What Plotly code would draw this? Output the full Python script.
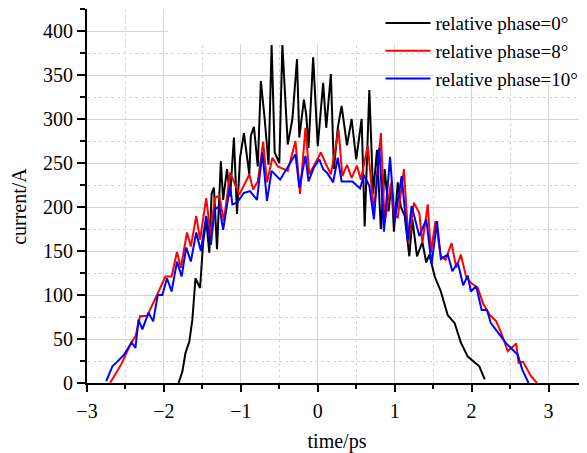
import plotly.graph_objects as go

# phase 0°
x_p0 = [-1.81, -1.76, -1.72, -1.67, -1.63, -1.59, -1.53, -1.49, -1.45, -1.41, -1.38, -1.35, -1.31,
        -1.26, -1.23, -1.18, -1.14, -1.09, -1.05, -1.01, -0.96, -0.89, -0.87, -0.83, -0.78, -0.74,
        -0.69, -0.64, -0.60, -0.56, -0.50, -0.46, -0.39, -0.33, -0.27, -0.24, -0.18, -0.15, -0.12,
        -0.06, 0.00, 0.07, 0.11, 0.17, 0.21, 0.26, 0.31, 0.38, 0.44, 0.50, 0.57, 0.61, 0.67, 0.72,
        0.77, 0.82, 0.87, 0.92, 0.96, 0.99, 1.04, 1.08, 1.13, 1.19, 1.23, 1.29, 1.36, 1.41, 1.45,
        1.52, 1.60, 1.69, 1.78, 1.86, 1.95, 2.03, 2.10, 2.17]
y_p0 = [0, 13, 34, 47, 72, 119, 108, 160, 185, 148, 215, 222, 152,
        252, 208, 243, 212, 279, 192, 256, 284, 237, 281, 291, 246, 343,
        300, 248, 384, 262, 250, 384, 271, 300, 368, 279, 322, 305, 267,
        370, 269, 341, 290, 351, 243, 290, 315, 270, 300, 254, 300, 178, 333, 215,
        265, 175, 243, 195, 228, 172, 228, 200, 190, 144, 186, 144, 160, 137, 146,
        121, 104, 77, 68, 46, 30, 24, 19, 4]

# phase 8°
x_p8 = [-2.70, -2.55, -2.43, -2.37, -2.31, -2.22, -2.09, -1.98, -1.90, -1.83, -1.78, -1.70, -1.65,
        -1.58, -1.53, -1.45, -1.39, -1.34, -1.28, -1.22, -1.14, -1.09, -1.02, -0.89, -0.84, -0.78,
        -0.71, -0.66, -0.59, -0.52, -0.44, -0.39, -0.29, -0.23, -0.16, -0.11, -0.05, 0.04, 0.10,
        0.17, 0.27, 0.32, 0.38, 0.44, 0.51, 0.56, 0.65, 0.73, 0.82, 0.87, 0.95, 0.99, 1.04, 1.12,
        1.18, 1.25, 1.32, 1.36, 1.43, 1.47, 1.53, 1.60, 1.66, 1.74, 1.80, 1.86, 1.93, 1.99, 2.08,
        2.15, 2.23, 2.32, 2.38, 2.47, 2.58, 2.61, 2.67, 2.77, 2.85]
y_p8 = [0, 22, 45, 53, 76, 76, 100, 121, 121, 149, 131, 171, 155,
        190, 163, 210, 167, 210, 213, 184, 239, 228, 214, 237, 220, 229,
        274, 228, 256, 246, 243, 241, 275, 215, 290, 237, 247, 262, 250,
        237, 288, 235, 248, 233, 247, 231, 270, 194, 284, 182, 226, 190, 188, 243,
        160, 205, 193, 159, 203, 148, 184, 144, 140, 159, 131, 146, 120, 114, 108,
        90, 78, 70, 58, 36, 45, 23, 24, 8, 0]

# phase 10°
x_p10 = [-2.75, -2.67, -2.61, -2.52, -2.42, -2.37, -2.33, -2.28, -2.20, -2.14, -2.08, -2.02, -1.96,
         -1.90, -1.83, -1.77, -1.71, -1.65, -1.58, -1.52, -1.45, -1.39, -1.34, -1.28, -1.23, -1.14,
         -1.11, -1.05, -0.96, -0.88, -0.79, -0.72, -0.66, -0.60, -0.49, -0.39, -0.29, -0.24, -0.16,
         -0.12, -0.05, 0.02, 0.07, 0.12, 0.20, 0.26, 0.31, 0.45, 0.55, 0.60, 0.67, 0.73, 0.80, 0.86,
         0.94, 1.00, 1.09, 1.17, 1.22, 1.32, 1.41, 1.48, 1.55, 1.60, 1.69, 1.75, 1.82, 1.89, 1.95,
         1.99, 2.06, 2.13, 2.20, 2.25, 2.34, 2.45, 2.53, 2.60, 2.66, 2.74]
y_p10 = [2, 19, 24, 32, 46, 40, 72, 61, 80, 70, 100, 100, 119,
         104, 138, 121, 154, 138, 171, 150, 190, 157, 197, 201, 174, 224,
         203, 205, 216, 218, 208, 262, 207, 241, 231, 246, 260, 222, 258,
         229, 245, 254, 243, 239, 228, 256, 229, 229, 221, 236, 224, 186, 267, 172,
         257, 184, 235, 162, 201, 167, 186, 135, 184, 141, 146, 127, 137, 111, 122,
         104, 110, 83, 83, 68, 57, 45, 38, 32, 15, 0]

names = ["relative phase=0°", "relative phase=8°", "relative phase=10°"]
colors = ["#000000", "#ff0000", "#0000ff"]

FONT = "Liberation Serif"
FS = 20
fig = go.Figure()
for xs, ys, nm, c in zip([x_p0, x_p8, x_p10], [y_p0, y_p8, y_p10], names, colors):
    fig.add_trace(go.Scatter(x=xs, y=ys, mode="lines", name=nm,
                             line=dict(color=c, width=2)))

# white legend backdrop regions that hide the grid
fig.add_shape(type="rect", xref="x", yref="y", x0=-1.95, x1=3.5, y0=385, y1=425,
              fillcolor="white", line_width=0, layer="between")
fig.add_shape(type="rect", xref="x", yref="y", x0=1.5, x1=3.5, y0=339, y1=425,
              fillcolor="white", line_width=0, layer="between")

grid_major = "#d4d4d4"
grid_minor = "#d4d4d4"
fig.update_xaxes(range=[-3, 3.5], dtick=1, tick0=0, showline=True, linecolor="black", linewidth=2,
                 ticks="outside", ticklen=7, tickwidth=2, tickcolor="black", automargin=False,
                 ticklabelstandoff=2,
                 showgrid=True, gridcolor=grid_major, gridwidth=1, zeroline=False,
                 minor=dict(dtick=0.5, tick0=0, ticks="outside", ticklen=4, tickwidth=1.5,
                            tickcolor="black", showgrid=True, gridcolor=grid_minor, griddash="dot"),
                 title=dict(text="time/ps", font=dict(family=FONT, size=FS, color="black"), standoff=14),
                 tickfont=dict(family=FONT, size=FS, color="black"))
fig.update_yaxes(range=[0, 425], dtick=50, tick0=0, showline=True, linecolor="black", linewidth=2,
                 ticks="outside", ticklen=8, tickwidth=2, tickcolor="black", automargin=False,
                 showgrid=True, gridcolor=grid_major, gridwidth=1, zeroline=False,
                 minor=dict(dtick=25, tick0=0, ticks="outside", ticklen=5, tickwidth=1.5,
                            tickcolor="black", showgrid=True, gridcolor=grid_minor, griddash="dot"),
                 tickfont=dict(family=FONT, size=FS, color="black"))

fig.add_annotation(text="current/A", xref="paper", yref="paper", x=-0.136, y=0.471,
                   xanchor="center", yanchor="middle", textangle=-90, showarrow=False,
                   font=dict(family=FONT, size=FS, color="black"))

# page body has an 8px margin, so the figure is sized/offset to fill the 587x453 window
fig.update_layout(
    width=579, height=445,
    margin=dict(l=79, r=0, t=1, b=70, autoexpand=False),
    paper_bgcolor="white", plot_bgcolor="white",
    font=dict(family=FONT, size=18, color="black"),
    showlegend=True,
    legend=dict(x=0.587, y=1.013, xanchor="left", yanchor="top", bgcolor="rgba(0,0,0,0)",
                font=dict(family=FONT, size=19, color="black"), itemwidth=45,
                tracegroupgap=0),
)

fig.write_html("out.html")
